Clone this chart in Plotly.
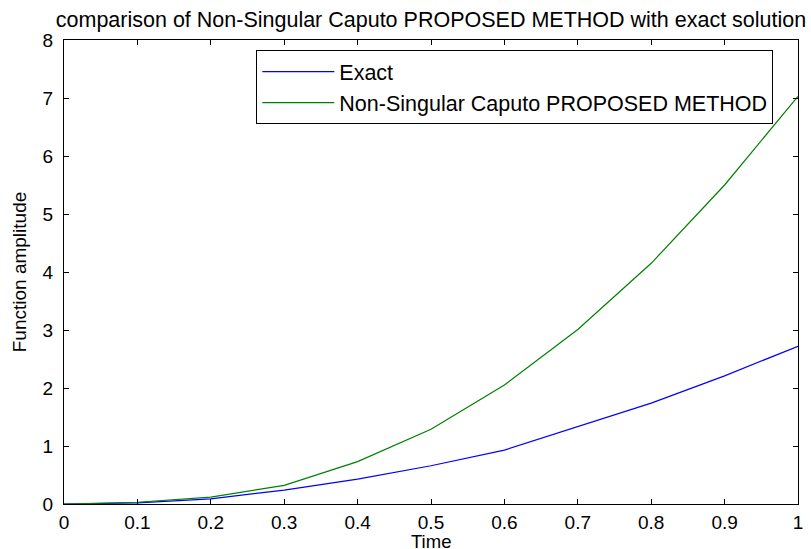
import plotly.graph_objects as go

# Sample times and the two solution curves
time = [0.0, 0.1, 0.2, 0.3, 0.4, 0.5, 0.6, 0.7, 0.8, 0.9, 1.0]
exact = [0.0, 0.02, 0.09, 0.24, 0.43, 0.66, 0.93, 1.33, 1.74, 2.21, 2.72]
proposed = [0.0, 0.03, 0.12, 0.32, 0.73, 1.29, 2.05, 3.01, 4.15, 5.50, 7.03]

x_ticks = [0, 0.1, 0.2, 0.3, 0.4, 0.5, 0.6, 0.7, 0.8, 0.9, 1]
x_tick_labels = ["0", "0.1", "0.2", "0.3", "0.4", "0.5", "0.6", "0.7", "0.8", "0.9", "1"]
y_ticks = [0, 1, 2, 3, 4, 5, 6, 7, 8]

FONT = "Liberation Sans, Arial, sans-serif"

fig = go.Figure()
fig.add_trace(go.Scatter(x=time, y=exact, mode="lines", name="Exact",
                         line=dict(color="#0000ff", width=1.2)))
fig.add_trace(go.Scatter(x=time, y=proposed, mode="lines",
                         name="Non-Singular Caputo PROPOSED METHOD",
                         line=dict(color="#008000", width=1.2)))

axis_common = dict(showline=True, linecolor="black", linewidth=1, mirror="ticks",
                   ticks="inside", ticklen=5, tickcolor="black", showgrid=False,
                   zeroline=False, automargin=False,
                   tickfont=dict(family=FONT, size=19, color="black"))

fig.update_layout(
    width=811, height=549,
    margin=dict(l=64, r=13, t=40, b=45),
    paper_bgcolor="white", plot_bgcolor="white",
    font=dict(family=FONT, color="black"),
    title=dict(text="comparison of Non-Singular Caputo PROPOSED METHOD with exact solution",
               x=0.5, xref="paper", xanchor="center",
               y=1 - 19 / 549, yref="container", yanchor="middle",
               font=dict(family=FONT, size=21.5, color="black")),
    xaxis=dict(range=[0, 1], tickvals=x_ticks, ticktext=x_tick_labels,
               ticklabelstandoff=1, **axis_common),
    yaxis=dict(range=[0, 8], tickvals=y_ticks, ticklabelstandoff=6,
               title=dict(text="Function amplitude", font=dict(family=FONT, size=19), standoff=10),
               **axis_common),
    legend=dict(x=0.262, y=0.978, xanchor="left", yanchor="top",
                bgcolor="white", bordercolor="black", borderwidth=1,
                font=dict(family=FONT, size=21.5, color="black"),
                itemwidth=72, tracegroupgap=0),
    showlegend=True,
)

# x-axis label placed just below the tick labels
fig.add_annotation(text="Time", xref="paper", yref="paper", x=0.5, y=-0.057,
                   xanchor="center", yanchor="top", showarrow=False, borderpad=0,
                   font=dict(family=FONT, size=18.5, color="black"))

fig.write_html("out.html")
